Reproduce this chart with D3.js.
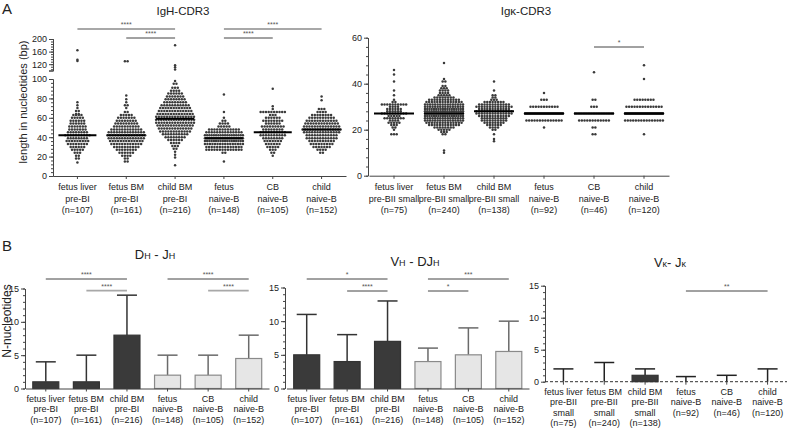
<!DOCTYPE html>
<html>
<head>
<meta charset="utf-8">
<script src="https://cdn.jsdelivr.net/npm/d3@7"></script>
<style>
  body { margin: 0; background: #fff; }
  text { font-family: "Liberation Sans", Arial, sans-serif; fill: #222; }
</style>
</head>
<body>
<svg id="chart" width="787" height="432"></svg>
<script>
// ---- categories / tick labels ----
const catsH = [["fetus liver", "pre-BI", "(n=107)"], ["fetus BM", "pre-BI", "(n=161)"], ["child BM", "pre-BI", "(n=216)"],
               ["fetus", "naive-B", "(n=148)"], ["CB", "naive-B", "(n=105)"], ["child", "naive-B", "(n=152)"]];
const catsK = [["fetus liver", "pre-BII small", "(n=75)"], ["fetus BM", "pre-BII small", "(n=240)"], ["child BM", "pre-BII small", "(n=138)"],
               ["fetus", "naive-B", "(n=92)"], ["CB", "naive-B", "(n=46)"], ["child", "naive-B", "(n=120)"]];
const catsVK = [["fetus liver", "pre-BII", "small", "(n=75)"], ["fetus BM", "pre-BII", "small", "(n=240)"], ["child BM", "pre-BII", "small", "(n=138)"],
                ["fetus", "naive-B", "(n=92)"], ["CB", "naive-B", "(n=46)"], ["child", "naive-B", "(n=120)"]];

// ---- IgH-CDR3 lengths: [length, number of sequences] ----
const hFetusLiver = [[164,1],[134,1],[130,1],[76,1],[73,1],[70,1],[67,2],[64,2],[63,4],[60,5],[57,6],[54,6],[51,7],[48,7],
                     [45,8],[42,10],[39,8],[36,9],[33,8],[30,6],[27,5],[24,3],[21,2],[18,2],[14,1]];
const hFetusBM = [[129,2],[83,1],[79,1],[76,1],[73,2],[70,1],[66,2],[63,5],[60,7],[57,8],[54,9],[51,10],[48,12],[45,14],
                  [42,15],[39,14],[36,13],[33,12],[30,10],[27,8],[24,6],[21,4],[18,2],[15,2]];
const hChildBM = [[180,1],[117,1],[110,1],[103,1],[98,1],[95,2],[91,3],[88,4],[85,6],[82,7],[79,8],[76,9],[73,11],[70,12],
                  [67,13],[64,14],[61,15],[58,16],[55,15],[52,14],[49,13],[46,12],[43,10],[40,8],[37,6],[34,4],[31,3],[28,2],
                  [25,1],[22,1],[19,1],[11,1]];
const hFetusNaive = [[84,1],[66,1],[60,1],[57,2],[54,4],[51,5],[48,12],[45,14],[42,18],[39,25],[36,18],[33,16],[30,14],[27,14],[24,2],[15,1]];
const hCBNaive = [[90,1],[72,1],[69,1],[66,10],[63,3],[60,6],[57,8],[54,6],[51,9],[48,8],[45,10],[42,10],[39,8],[36,7],[33,6],[30,5],[27,3],[24,2],[21,1]];
const hChildNaive = [[82,1],[78,1],[69,3],[66,4],[63,8],[60,10],[57,12],[54,13],[51,14],[48,16],[45,14],[42,12],[39,12],[36,10],[33,9],[30,7],[27,4],[24,2]];
const medH = [42, 42, 59, 39, 45, 48];

// ---- Igk-CDR3 lengths ----
const kFetusLiver = [[46,1],[44,1],[41,1],[37,1],[35,1],[33,1],[32,2],[31,10],[30,4],[29,6],[28,6],[27,10],[26,5],[25,8],[24,4],[23,5],[22,3],[21,2],[20,1],[18,3]];
const kFetusBM = [[49,1],[42,1],[41,2],[39,2],[38,3],[37,4],[36,4],[35,5],[34,8],[33,12],[32,14],[31,16],[30,16],[29,18],[28,18],[27,20],
                  [26,18],[25,16],[24,16],[23,14],[22,12],[21,8],[20,5],[19,3],[18,2],[11,1],[10,1]];
const kChildBM = [[41,1],[37,1],[35,2],[34,2],[33,3],[32,8],[31,12],[30,14],[29,12],[28,14],[27,14],[26,12],[25,10],[24,10],[23,8],[22,6],[21,4],[20,2],[18,1],[16,1],[15,1]];
const kFetusNaive = [[36,1],[33,3],[30,11],[27,62],[24,14],[21,1]];
const kCBNaive = [[45,1],[33,2],[30,3],[27,24],[24,12],[21,2],[18,2]];
const kChildNaive = [[48,1],[42,1],[33,8],[30,14],[27,80],[24,15],[18,1]];
const medK = [27, 27, 28, 27, 27, 27];

// ---- N-nucleotides: mean and SD ----
const djhMean = [1, 1, 8, 2, 2, 4.5];
const djhSD = [3, 4, 6, 3, 3, 3.5];
const vdjMean = [5, 4, 7, 4, 5, 5.5];
const vdjSD = [6, 4, 6, 2, 4, 4.5];
const vjkMean = [0, 0, 1, 0, 0, 0];
const vjkSD = [2, 3, 1, 0.8, 1, 2];
const barDark = [true, true, true, false, false, false];

const svg = d3.select("#chart");
const FONT = "Liberation Sans, Arial, sans-serif";

function styleAxis(g) {
  g.attr("font-family", FONT).attr("font-size", 9).style("color", "#444");
  g.selectAll("text").style("fill", "#222");
}

function catLabels(x, cats, y0, lh) {
  cats.forEach((lines, i) => {
    const t = svg.append("text")
      .attr("text-anchor", "middle")
      .attr("font-size", 9)
      .attr("x", x(i) + x.bandwidth() / 2)
      .attr("y", y0);
    lines.forEach((s, j) => t.append("tspan")
      .attr("x", x(i) + x.bandwidth() / 2)
      .attr("y", y0 + j * lh)
      .text(s));
  });
}

function sigLine(x, a, b, y, stars, gray) {
  svg.append("line")
    .attr("x1", x(a) + x.bandwidth() / 2).attr("x2", x(b) + x.bandwidth() / 2)
    .attr("y1", y).attr("y2", y)
    .attr("stroke", gray ? "#a8a8a8" : "#444")
    .attr("stroke-width", gray ? 1.8 : 1);
  svg.append("text")
    .attr("x", (x(a) + x(b)) / 2 + x.bandwidth() / 2)
    .attr("y", y - 2)
    .attr("text-anchor", "middle")
    .attr("font-size", 7)
    .style("fill", "#555")
    .text(stars);
}

// lay out one scatter column as rows of dots centred on cx
function swarm(rows, cx, yfn, step, maxW) {
  const pts = [];
  rows.forEach(([v, c]) => {
    const s = c > 1 ? Math.min(step, maxW / (c - 1)) : 0;
    for (let i = 0; i < c; i++) pts.push({ x: cx + (i - (c - 1) / 2) * s, y: yfn(v) });
  });
  return pts;
}

function drawDots(groups, meds, x, yfn, maxW, medW) {
  groups.forEach((rows, i) => {
    const cx = x(i) + x.bandwidth() / 2;
    svg.append("g").selectAll("circle")
      .data(swarm(rows, cx, yfn, 2.7, maxW))
      .join("circle")
      .attr("cx", d => d.x).attr("cy", d => d.y)
      .attr("r", 1.25)
      .attr("fill", "#3a3a3a");
    svg.append("line")
      .attr("x1", cx - medW / 2).attr("x2", cx + medW / 2)
      .attr("y1", yfn(meds[i])).attr("y2", yfn(meds[i]))
      .attr("stroke", "#000").attr("stroke-width", 2);
  });
}

// ================= Panel A: IgH-CDR3 =================
const xH = d3.scaleBand().domain(d3.range(6)).range([53, 346]);
const yLow = d3.scaleLinear().domain([0, 100]).range([176, 79]);
const yHigh = d3.scaleLinear().domain([100, 200]).range([70.5, 39]);
const yH = v => (v > 100 ? yHigh(v) : yLow(v));

svg.append("g").attr("transform", "translate(53,0)")
  .call(d3.axisLeft(yLow).tickValues(d3.range(0, 101, 4)).tickSize(2).tickSizeOuter(0).tickFormat(""))
  .call(styleAxis);
svg.append("g").attr("transform", "translate(53,0)")
  .call(d3.axisLeft(yLow).tickValues(d3.range(0, 101, 20)).tickSize(4).tickSizeOuter(0).tickPadding(2))
  .call(styleAxis);
svg.append("g").attr("transform", "translate(53,0)")
  .call(d3.axisLeft(yHigh).tickValues(d3.range(104, 201, 8)).tickSize(2).tickSizeOuter(4).tickFormat(""))
  .call(styleAxis);
svg.append("g").attr("transform", "translate(53,0)")
  .call(d3.axisLeft(yHigh).tickValues([120, 160, 200]).tickSize(4).tickSizeOuter(4).tickPadding(2))
  .call(styleAxis);
svg.append("g").attr("transform", "translate(0,176)")
  .call(d3.axisBottom(xH).tickSize(3).tickSizeOuter(0).tickFormat(""))
  .call(styleAxis);
catLabels(xH, catsH, 190, 11.7);

drawDots([hFetusLiver, hFetusBM, hChildBM, hFetusNaive, hCBNaive, hChildNaive], medH, xH, yH, 38, 38);

svg.append("text").attr("x", 183).attr("y", 15).attr("text-anchor", "middle").attr("font-size", 11.5).text("IgH-CDR3");
svg.append("text").attr("transform", "translate(27,102) rotate(-90)").attr("text-anchor", "middle")
  .attr("font-size", 11).text("length in nucleotides (bp)");
svg.append("text").attr("x", 2).attr("y", 14).attr("font-size", 15).text("A");

sigLine(xH, 0, 2, 29, "****", true);
sigLine(xH, 1, 2, 38, "****", false);
sigLine(xH, 3, 5, 29, "****", true);
sigLine(xH, 3, 4, 38, "****", false);

// ================= Panel A: Igk-CDR3 =================
const xK = d3.scaleBand().domain(d3.range(6)).range([369, 669]);
const yK = d3.scaleLinear().domain([0, 60]).range([175.7, 37.7]);

svg.append("g").attr("transform", "translate(368,0)")
  .call(d3.axisLeft(yK).tickValues(d3.range(0, 61, 4)).tickSize(2).tickSizeOuter(0).tickFormat(""))
  .call(styleAxis);
svg.append("g").attr("transform", "translate(368,0)")
  .call(d3.axisLeft(yK).tickValues([0, 20, 40, 60]).tickSize(4).tickSizeOuter(0).tickPadding(2))
  .call(styleAxis);
svg.append("g").attr("transform", "translate(0,175.7)")
  .call(d3.axisBottom(xK).tickSize(3).tickSizeOuter(0).tickFormat(""))
  .call(styleAxis);
catLabels(xK, catsK, 190, 11.7);

drawDots([kFetusLiver, kFetusBM, kChildBM, kFetusNaive, kCBNaive, kChildNaive], medK, xK, yK, 38, 40);

svg.append("text").attr("x", 526).attr("y", 15).attr("text-anchor", "middle").attr("font-size", 11.5).text("Igκ-CDR3");
sigLine(xK, 4, 5, 47, "*", false);

// ================= Panel B: bar charts =================
function barPanel(o) {
  const x = d3.scaleBand().domain(d3.range(6)).range(o.xr);
  const y = d3.scaleLinear().domain([0, 15]).range(o.yr);
  svg.append("g").attr("transform", `translate(${o.ax},0)`)
    .call(d3.axisLeft(y).tickValues(d3.range(0, 16, 1)).tickSize(2).tickSizeOuter(0).tickFormat(""))
    .call(styleAxis);
  svg.append("g").attr("transform", `translate(${o.ax},0)`)
    .call(d3.axisLeft(y).tickValues([0, 5, 10, 15]).tickSize(4).tickSizeOuter(0).tickPadding(2))
    .call(styleAxis);
  const bw = 26, cap = 20;
  o.mean.forEach((m, i) => {
    const cx = x(i) + x.bandwidth() / 2;
    const dark = o.dark[i];
    const col = dark ? "#333" : "#6a6a6a";
    svg.append("line")
      .attr("x1", cx).attr("x2", cx)
      .attr("y1", y(m)).attr("y2", y(m + o.sd[i]))
      .attr("stroke", o.errCol || col).attr("stroke-width", 1.5);
    svg.append("line")
      .attr("x1", cx - cap / 2).attr("x2", cx + cap / 2)
      .attr("y1", y(m + o.sd[i])).attr("y2", y(m + o.sd[i]))
      .attr("stroke", o.errCol || col).attr("stroke-width", 1.5);
    if (m > 0) {
      svg.append("rect")
        .attr("x", cx - bw / 2).attr("y", y(m))
        .attr("width", bw).attr("height", y(0) - y(m))
        .attr("fill", dark ? "#3a3a3a" : "#e6e6e6")
        .attr("stroke", dark ? "#333" : "#8a8a8a")
        .attr("stroke-width", 1.2);
    }
  });
  if (o.dashed) {
    svg.append("line").attr("x1", o.ax).attr("x2", o.xr[1]).attr("y1", y(0)).attr("y2", y(0))
      .attr("stroke", "#333").attr("stroke-width", 1).attr("stroke-dasharray", "3,2");
  }
  svg.append("g").attr("transform", `translate(0,${y(0)})`)
    .call(d3.axisBottom(x).tickSize(3).tickSizeOuter(0).tickFormat(""))
    .call(styleAxis);
  if (o.dashed) svg.select("g:last-child .domain").remove();
  catLabels(x, o.cats, y(0) + 13, 10.5);
  const t = svg.append("text").attr("x", o.tx).attr("y", o.ty).attr("text-anchor", "middle").attr("font-size", 13);
  o.title.forEach(([s, small]) => t.append("tspan").attr("font-size", small ? 9 : 13).text(s));
  o.sig.forEach(s => sigLine(x, s[0], s[1], s[2], s[3], s[4]));
  return x;
}

barPanel({
  xr: [25.5, 269], yr: [388.5, 288.5], ax: 25, mean: djhMean, sd: djhSD, dark: barDark, cats: catsH,
  tx: 155, ty: 259, title: [["D", false], ["H", true], [" - J", false], ["H", true]],
  sig: [[0, 2, 279, "****", false], [1, 2, 290.7, "****", true], [3, 5, 279, "****", false], [4, 5, 290.7, "****", true]]
});
barPanel({
  xr: [286.5, 529], yr: [388.5, 287.5], ax: 285, mean: vdjMean, sd: vdjSD, dark: barDark, cats: catsH,
  tx: 415, ty: 266, title: [["V", false], ["H", true], [" - DJ", false], ["H", true]],
  sig: [[0, 2, 279, "*", false], [1, 2, 291, "****", false], [3, 5, 279, "***", false], [3, 4, 291, "*", false]]
});
barPanel({
  xr: [543, 788], yr: [381.7, 285.7], ax: 545, mean: vjkMean, sd: vjkSD, dark: [false, false, true, false, false, false],
  cats: catsVK, errCol: "#222", dashed: true,
  tx: 670, ty: 267, title: [["V", false], ["κ", true], ["- J", false], ["κ", true]],
  sig: [[3, 5, 291, "**", false]]
});

svg.append("text").attr("transform", "translate(11,321) rotate(-90)").attr("text-anchor", "middle")
  .attr("font-size", 12).text("N-nucleotides");
svg.append("text").attr("x", 2).attr("y", 251).attr("font-size", 15).text("B");
</script>
</body>
</html>
